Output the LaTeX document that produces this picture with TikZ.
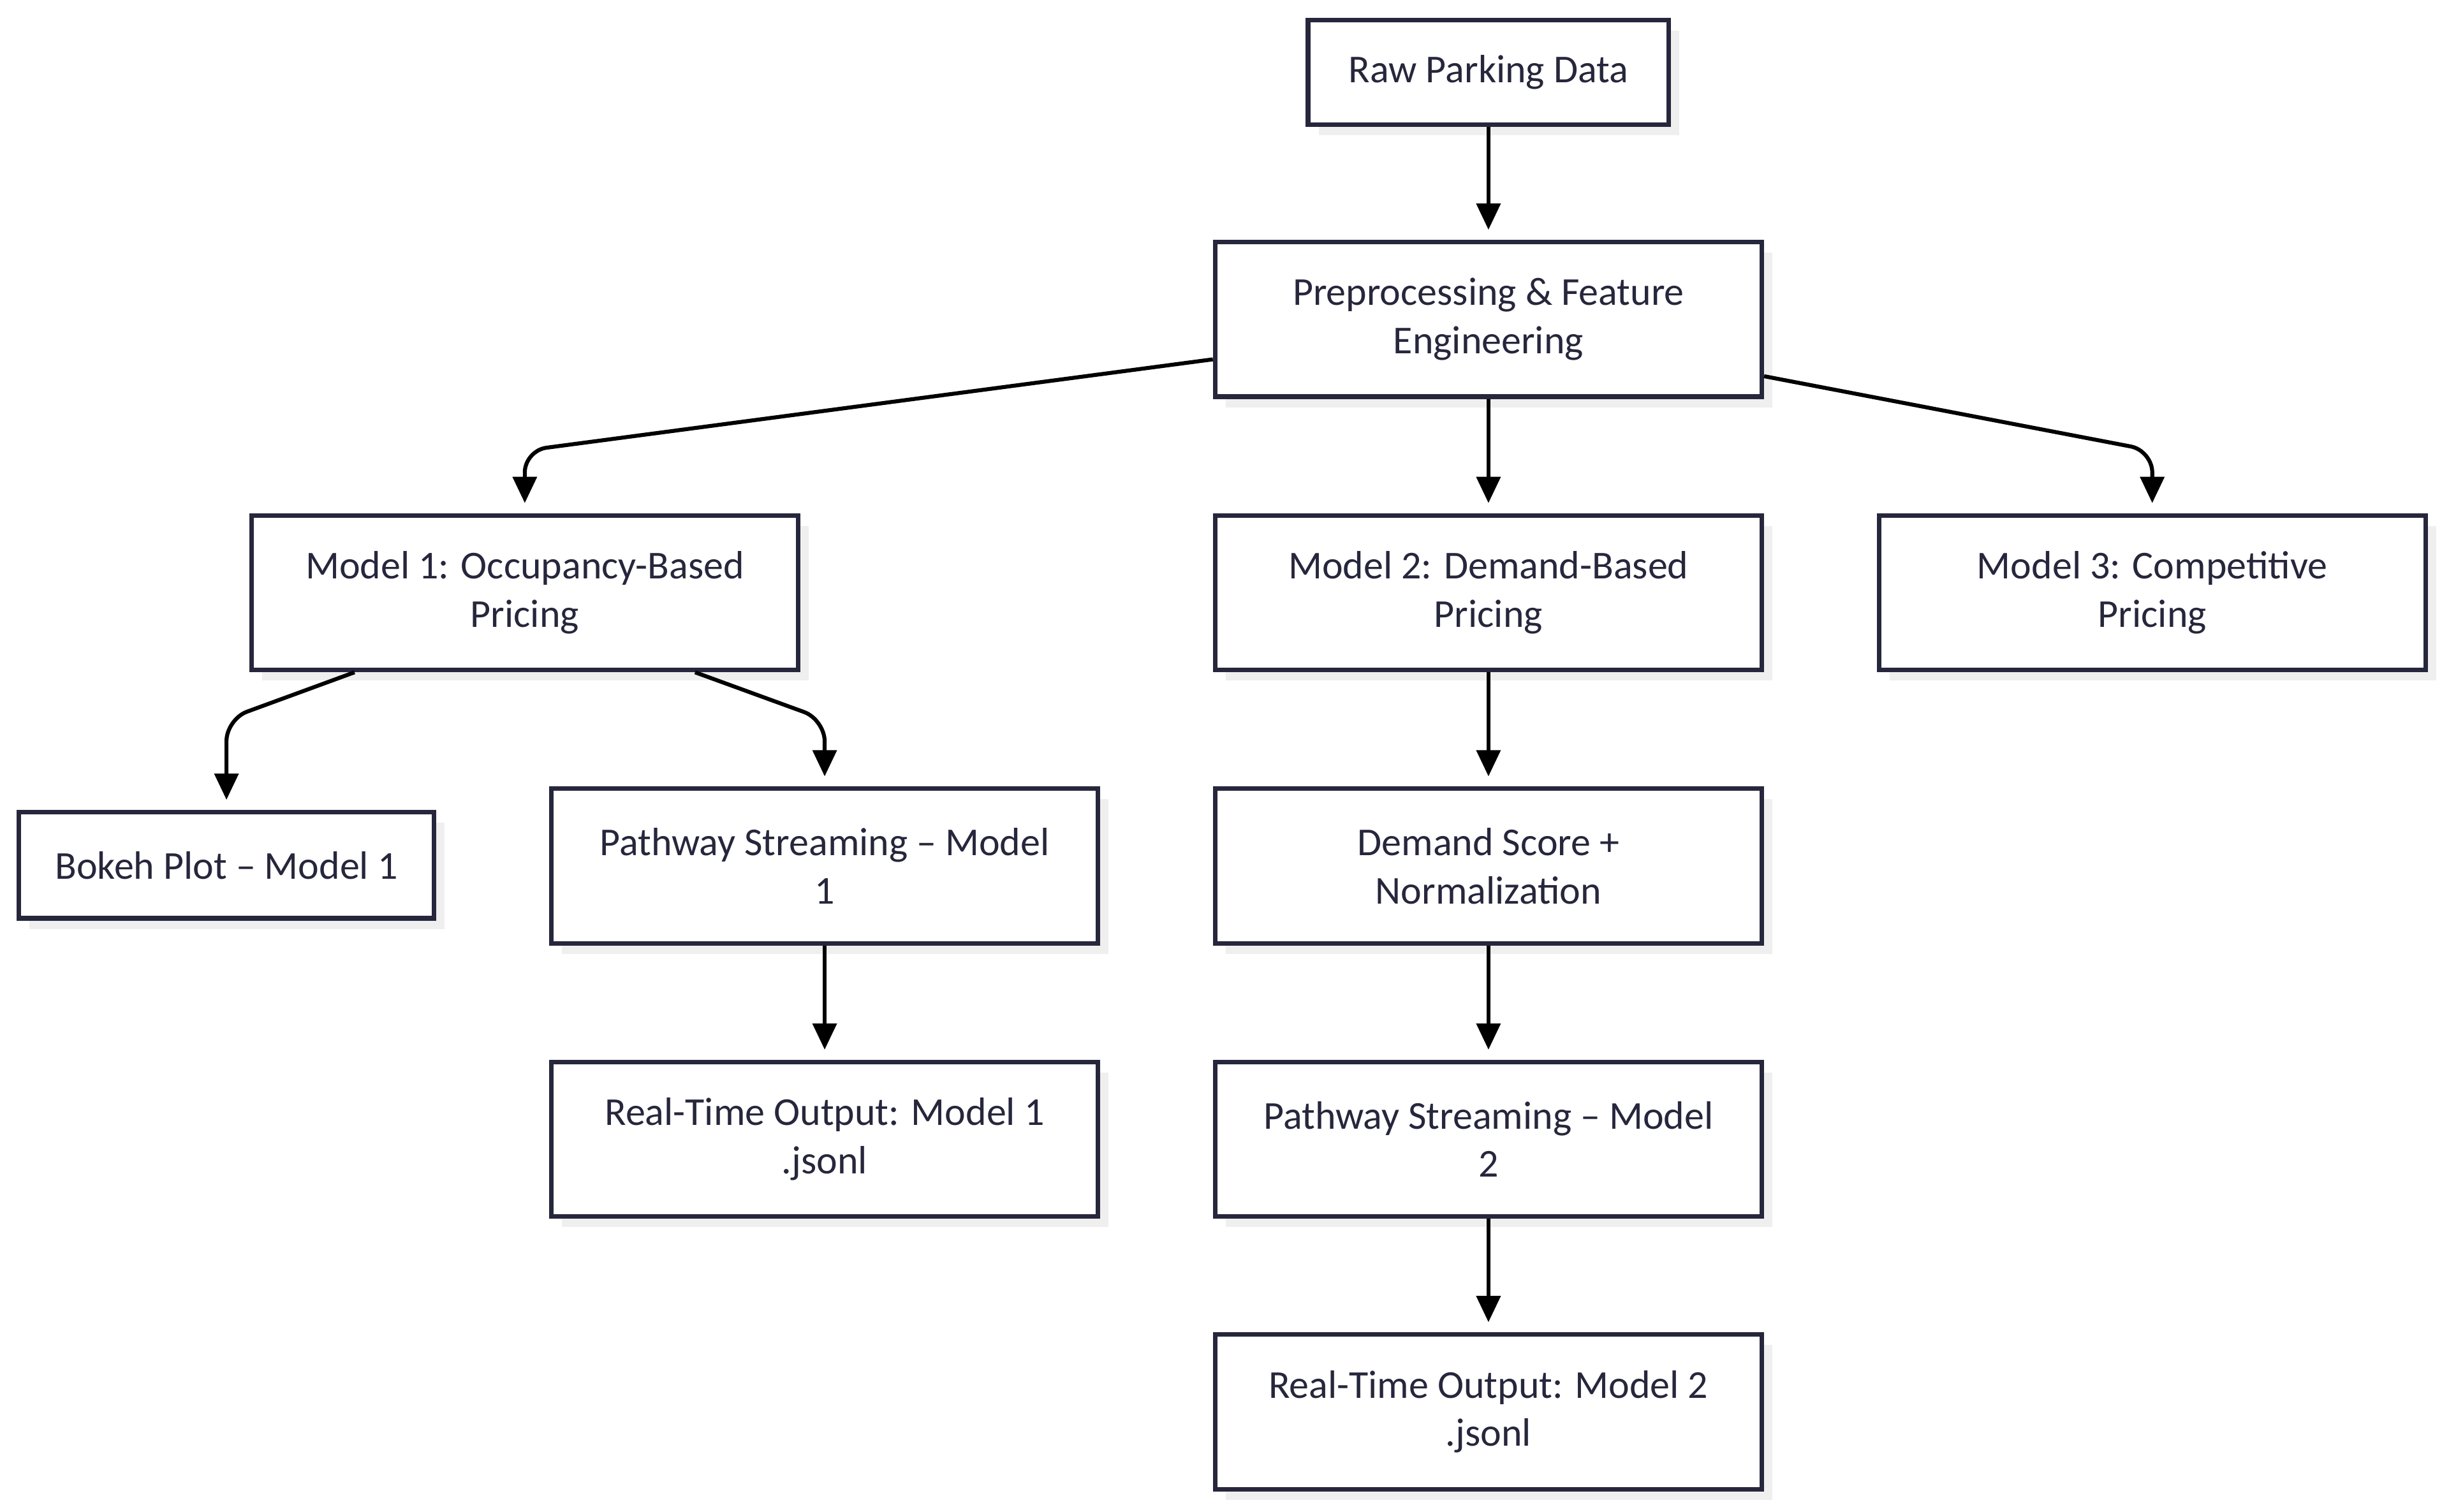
\documentclass[tikz,border=0pt]{standalone}
\usepackage{fontspec}
\setmainfont{Carlito}
\usetikzlibrary{arrows.meta, positioning, calc, shadows}
\definecolor{inkcolor}{RGB}{38,38,60}
\definecolor{shadowcolor}{RGB}{239,239,239}

\begin{document}
\begin{tikzpicture}[
    box/.style={draw=inkcolor, fill=white, line width=2.1pt, minimum width=8.75cm, minimum height=2.475cm, align=center, text=inkcolor, font=\fontsize{18}{22}\selectfont, drop shadow={shadow xshift=0.17cm, shadow yshift=-0.17cm, fill=shadowcolor, opacity=1}},
    arrow/.style={-{Triangle[length=0.42cm, width=0.38cm]}, line width=1.8pt, rounded corners=0.35cm, shorten >=0.16cm}
]
    \fill[white] (0,0) rectangle (39.2,-24.2);
    \useasboundingbox (0,0) rectangle (39.2,-24.2);

    % Input and preprocessing
    \node[box, minimum width=5.775cm, minimum height=1.675cm] (raw) at (23.825,-1.16) {Raw Parking Data};
    \node[box] (prep) at (23.825,-5.1125) {Preprocessing \& Feature\\Engineering};

    % Pricing models
    \node[box] (model1) at (8.4,-9.4875) {Model 1: Occupancy-Based\\Pricing};
    \node[box] (model2) at (23.825,-9.4875) {Model 2: Demand-Based\\Pricing};
    \node[box] (model3) at (34.45,-9.4875) {Model 3: Competitive\\Pricing};

    % Model 1 branch
    \node[box, minimum width=6.65cm, minimum height=1.7cm] (bokeh) at (3.625,-13.85) {Bokeh Plot – Model 1};
    \node[box] (stream1) at (13.2,-13.8625) {Pathway Streaming – Model\\1};
    \node[box] (output1) at (13.2,-18.2375) {Real-Time Output: Model 1\\.jsonl};

    % Model 2 branch
    \node[box] (demand) at (23.825,-13.8625) {Demand Score +\\Normalization};
    \node[box] (stream2) at (23.825,-18.2375) {Pathway Streaming – Model\\2};
    \node[box] (output2) at (23.825,-22.6) {Real-Time Output: Model 2\\.jsonl};

    % Arrows
    \draw[arrow] (raw.south) -- (prep.north);
    \draw[arrow] ($(prep.west)+(0,-0.64)$) -- ($(model1.north)+(0,1.0)$) -- (model1.north);
    \draw[arrow] (prep.south) -- (model2.north);
    \draw[arrow] ($(prep.east)+(0,-0.91)$) -- ($(model3.north)+(0,1.0)$) -- (model3.north);
    \draw[arrow] ($(model1.south)+(-2.725,0)$) -- ($(bokeh.north)+(0,1.45)$) -- (bokeh.north);
    \draw[arrow] ($(model1.south)+(2.725,0)$) -- ($(stream1.north)+(0,1.07)$) -- (stream1.north);
    \draw[arrow] (stream1.south) -- (output1.north);
    \draw[arrow] (model2.south) -- (demand.north);
    \draw[arrow] (demand.south) -- (stream2.north);
    \draw[arrow] (stream2.south) -- (output2.north);
\end{tikzpicture}
\end{document}
